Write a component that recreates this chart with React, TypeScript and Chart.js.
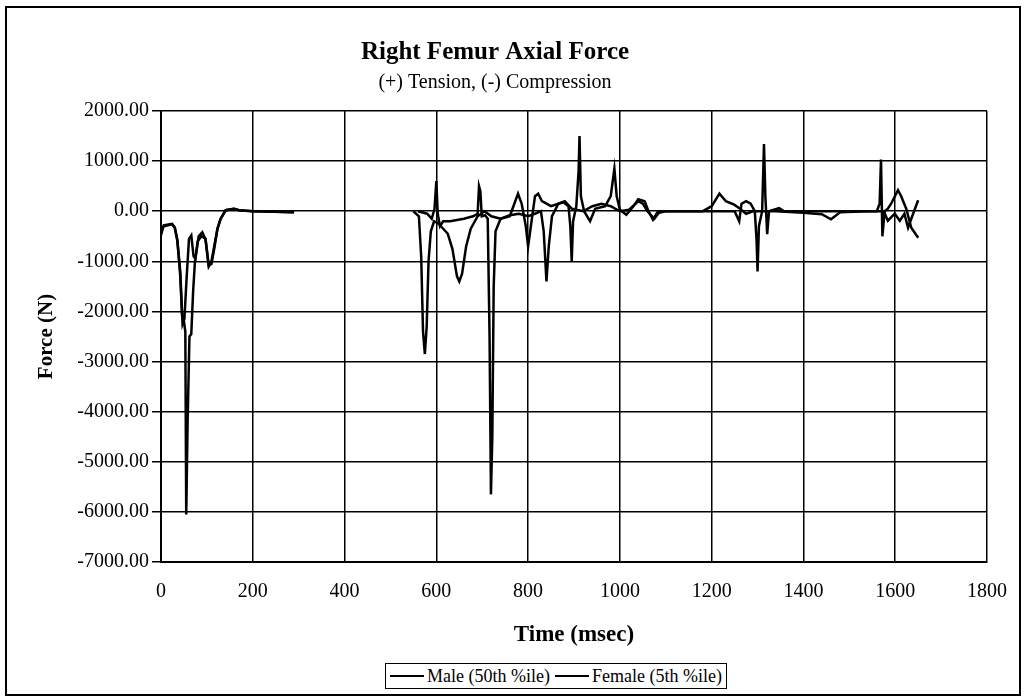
import React, { useEffect, useRef } from "react";
import { Chart, registerables } from "chart.js";

Chart.register(...registerables);

const FONT = "'Liberation Serif', 'Times New Roman', serif";

const titleText = "Right Femur Axial Force";
const subtitleText = "(+) Tension, (-) Compression";
const xTitle = "Time (msec)";
const yTitle = "Force (N)";
const seriesNames = ["Male (50th %ile)", "Female (5th %ile)"];

const xMin = 0;
const xMax = 1800;
const xStep = 200;
const yMin = -7000;
const yMax = 2000;
const yStep = 1000;

const maleTime = [
  0, 6, 24, 30, 35, 42, 46, 50, 53, 55, 58, 62, 66, 70, 74, 80, 88, 97, 104, 110, 116, 123, 130, 141, 159, 170, 200, 250, 290,
  420,
  560, 580, 590, 596, 600, 603, 608, 615, 630, 660, 680, 690, 693, 696, 699, 706, 712, 716, 719, 722, 725, 729, 740, 760,
  770, 778, 786, 795, 800, 806, 815, 822, 830, 850, 866, 877, 888, 892, 895, 898, 905, 910, 912, 915, 922, 935, 946, 968,
  980, 988, 993, 1000, 1014, 1032, 1040, 1054, 1061, 1072, 1083, 1250, 1260, 1265, 1275, 1285, 1294, 1298, 1300, 1303,
  1310, 1314, 1317, 1321, 1325, 1347, 1358, 1560, 1566, 1569, 1572, 1577, 1584, 1591, 1606, 1613, 1624, 1635, 1650,
];
const maleForce = [
  -480, -280, -250, -320, -550, -1200, -2080, -2200, -2400, -6050, -4200, -2500, -2450, -1600, -1000, -600, -500, -550, -1100, -1000, -700, -350, -150, 20, 50, 20, 0, -10, -20,
  null,
  0, -50, -150, 50, 600, -50, -300, -200, -200, -150, -100, -50, 500, 400, -100, -80, -150, -2500, -5650, -4500, -1500, -400, -150, -100,
  150, 350, 150, -300, -700, -300, 300, 350, 200, 100, 150, 180, 100, -300, -1000, -200, 100, 800, 1500, 300, 0, -200, 50, 100,
  300, 850, 300, 30, -70, 130, 240, 200, 30, -170, 0, 0, -200, 150, 200, 150, 0, -600, -1200, -300,
  0, 1340, 300, -460, 0, 60, 0, 0, 150, 1030, -500, 0, 50, 150, 420, 300, 50, -330, -530,
];

const femaleTime = [
  0, 6, 24, 30, 36, 42, 47, 51, 56, 61, 66, 71, 75, 82, 90, 97, 104, 110, 116, 123, 130, 141, 159, 170, 200, 290,
  420,
  550, 562, 567, 571, 575, 579, 583, 588, 595, 605, 615, 625, 635, 645, 650, 656, 665, 675, 690, 705, 720, 740, 760, 780,
  800, 815, 828, 834, 840, 845, 852, 866, 880, 895, 920, 940, 960, 980, 1000, 1020, 1040, 1050, 1060, 1075, 1085, 1100,
  1180, 1200, 1217, 1231, 1249, 1262, 1275, 1290, 1340, 1400, 1440, 1460, 1480, 1540, 1575, 1584, 1599, 1610, 1620, 1628,
  1639, 1650,
];
const femaleForce = [
  -400, -300, -260, -330, -600, -1300, -2250, -2150, -1300, -550, -480, -900, -950, -500, -420, -560, -1080, -1050, -750, -350, -150, 20, 50, 20, 0, -20,
  null,
  0, -100, -900, -2400, -2850, -2300, -1000, -400, -200, -250, -350, -450, -750, -1300, -1400, -1250, -700, -350, -100, 0, -100, -150, -80, -50,
  -100, -50, 0, -400, -1400, -700, -100, 150, 200, 50, 0, 100, 150, 100, 0, 30, 200, 150, 0, -150, -30, 0,
  0, 100, 350, 200, 130, 50, -50, 0, 0, -30, -60, -160, -20, 0, 0, -190, -50, -190, -50, -330,
  -50, 220,
];

function toPoints(times: number[], forces: (number | null)[]) {
  return times.map((t, i) => ({ x: t, y: forces[i] }));
}

export default function App() {
  const canvasRef = useRef<HTMLCanvasElement | null>(null);

  useEffect(() => {
    document.body.style.margin = "0";
    const canvas = canvasRef.current;
    if (!canvas) return;
    const chart = new Chart(canvas, {
      type: "line",
      data: {
        datasets: [
          {
            label: seriesNames[0],
            data: toPoints(maleTime, maleForce) as any,
            borderColor: "#000",
            backgroundColor: "#000",
            borderWidth: 2.5,
            pointRadius: 0,
            tension: 0,
            spanGaps: false,
            fill: false,
          },
          {
            label: seriesNames[1],
            data: toPoints(femaleTime, femaleForce) as any,
            borderColor: "#000",
            backgroundColor: "#000",
            borderWidth: 2.5,
            pointRadius: 0,
            tension: 0,
            spanGaps: false,
            fill: false,
          },
        ],
      },
      options: {
        responsive: false,
        animation: false,
        events: [],
        layout: { padding: { top: 38, right: 35, bottom: 0, left: 0 } },
        plugins: {
          legend: { display: false },
          tooltip: { enabled: false },
          title: {
            display: true,
            text: titleText,
            color: "#000",
            font: { family: FONT, size: 25, weight: "bold" },
            padding: { top: 0, bottom: 3 },
          },
          subtitle: {
            display: true,
            text: subtitleText,
            color: "#000",
            font: { family: FONT, size: 20 },
            padding: { top: 0, bottom: 16 },
          },
        },
        scales: {
          x: {
            type: "linear",
            min: xMin,
            max: xMax,
            ticks: {
              stepSize: xStep,
              autoSkip: false,
              maxRotation: 0,
              color: "#000",
              font: { family: FONT, size: 20 },
              padding: 18,
              callback: (v: any) => String(v),
            },
            grid: { color: "#000", lineWidth: 1.5, drawTicks: false, tickLength: 0 },
            border: { color: "#000", width: 2 },
            title: {
              display: true,
              text: xTitle,
              color: "#000",
              font: { family: FONT, size: 23, weight: "bold" },
              padding: { top: 0, bottom: 51 },
            },
            afterFit: (scale: any) => {
              scale.height = 138;
            },
          },
          y: {
            type: "linear",
            min: yMin,
            max: yMax,
            ticks: {
              stepSize: yStep,
              color: "#000",
              font: { family: FONT, size: 20 },
              padding: 3,
              callback: (v: any) => Number(v).toFixed(2),
            },
            grid: { color: "#000", lineWidth: 1.5, tickLength: 9 },
            border: { color: "#000", width: 2 },
            title: {
              display: true,
              text: yTitle,
              color: "#000",
              font: { family: FONT, size: 21, weight: "bold" },
              padding: { top: 34, bottom: 0 },
            },
            afterFit: (scale: any) => {
              scale.width = 161;
            },
          },
        },
      },
    });
    return () => chart.destroy();
  }, []);

  const lineSample: React.CSSProperties = {
    display: "inline-block",
    width: 34,
    height: 2,
    background: "#000",
    marginRight: 3,
  };

  return (
    <div style={{ position: "relative", width: 1025, height: 700, background: "#fff" }}>
      <canvas ref={canvasRef} width={1025} height={700} style={{ position: "absolute", left: 0, top: 0 }} />
      <div
        style={{
          position: "absolute",
          left: 5,
          top: 6,
          width: 1016,
          height: 690,
          border: "2px solid #000",
          boxSizing: "border-box",
          pointerEvents: "none",
        }}
      />
      <div
        style={{
          position: "absolute",
          left: 385,
          top: 663,
          height: 26,
          border: "1.5px solid #000",
          boxSizing: "border-box",
          display: "flex",
          alignItems: "center",
          padding: "0 4px",
          fontFamily: FONT,
          fontSize: 18,
          color: "#000",
          whiteSpace: "nowrap",
          background: "#fff",
        }}
      >
        <span style={lineSample} />
        <span style={{ marginRight: 5 }}>{seriesNames[0]}</span>
        <span style={lineSample} />
        <span>{seriesNames[1]}</span>
      </div>
    </div>
  );
}
